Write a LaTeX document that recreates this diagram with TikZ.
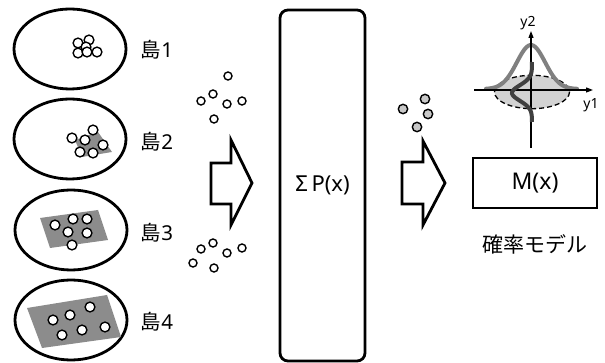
\documentclass[tikz,border=0pt]{standalone}
\usepackage{fontspec}
\setmainfont{Noto Sans}
\newfontfamily\jp{Noto Sans CJK JP}
\usetikzlibrary{shapes.geometric,arrows.meta}
\definecolor{patchgray}{RGB}{140,140,140}
\definecolor{dotgray}{RGB}{200,200,200}
\definecolor{ellgray}{RGB}{210,210,210}
\definecolor{curvegray}{RGB}{128,128,128}
\definecolor{curvedark}{RGB}{64,64,64}
\begin{document}
\begin{tikzpicture}[x=1pt,y=-1pt,
  island/.style={draw,line width=2.8pt,ellipse,minimum width=112pt,minimum height=80pt,inner sep=0pt},
  islandlabel/.style={font=\fontsize{20.5}{22}\selectfont,inner sep=0pt},
  dot/.style={draw,line width=1.4pt,fill=white},
  gdot/.style={draw,line width=1.4pt,fill=dotgray},
  patch/.style={fill=patchgray},
  bigarrow/.style={draw,line width=2.8pt,fill=white,line join=miter},
  bigbox/.style={draw,line width=2.8pt,inner sep=0pt},
  axis/.style={line width=1.2pt,-{Triangle[length=7pt,width=5pt]}},
  axislabel/.style={font=\fontsize{14}{16}\selectfont,inner sep=0pt}
]
\useasboundingbox (0,0) rectangle (605,363);

% islands
\node[island] (e1) at (70,49) {};
\node[island] (e2) at (70,139) {};
\node[island] (e3) at (71,230) {};
\node[island] (e4) at (71,320) {};

\node[islandlabel] (l1) at (157,50) {{\jp 島}1};
\node[islandlabel] (l2) at (157,142) {{\jp 島}2};
\node[islandlabel] (l3) at (157,233) {{\jp 島}3};
\node[islandlabel] (l4) at (157,322) {{\jp 島}4};

% island 1 samples
\foreach \p in {(78,43),(89,40),(86,47),(78,53),(87,52),(97,52)}
  \draw[dot] \p circle (4.9);

% island 2
\fill[patch] (75,140) -- (98,132) -- (112,152) -- (82,157) -- cycle;
\foreach \p in {(72,138),(85,140),(93,130),(103,145),(80,152),(93,153)}
  \draw[dot] \p circle (4.9);

% island 3
\fill[patch] (40,218) -- (98,210) -- (108,240) -- (50,248) -- cycle;
\foreach \p in {(55,225),(73,219),(87,219),(68,232),(87,233),(72,245)}
  \draw[dot] \p circle (4.9);

% island 4
\fill[patch] (27,308) -- (107,295) -- (121,337) -- (42,348) -- cycle;
\foreach \p in {(53,320),(70,315),(90,307),(62,335),(82,330),(105,327)}
  \draw[dot] \p circle (4.9);

% middle samples
\foreach \p in {(228,76),(201,101),(213,94),(227,104),(242,101),(214,119),
                (201,249),(213,243),(227,253),(242,248),(193,263),(214,268)}
  \draw[dot] \p circle (4.0);

% arrow 1
\draw[bigarrow] (211,163) -- (231,163) -- (231,140) -- (252,183) -- (231,225) -- (231,204) -- (211,204) -- cycle;

% sum box
\node[bigbox,rounded corners=8pt,minimum width=85pt,minimum height=351pt,font=\fontsize{22}{24}\selectfont] (sum) at (322.5,185.5) {Σ\,P(x)};

% gray samples
\foreach \p in {(403,109),(425,99),(428,114),(417,127)}
  \draw[gdot] \p circle (4.7);

% arrow 2
\draw[bigarrow] (402,162) -- (423,162) -- (423,141) -- (445,183) -- (423,225) -- (423,204) -- (402,204) -- cycle;

% model box
\node[bigbox,minimum width=124pt,minimum height=50pt,font=\fontsize{23}{25}\selectfont] (m) at (535,183) {M(x)};
\node[font=\jp\fontsize{21}{23}\selectfont,inner sep=0pt] (ml) at (535,244) {確率モデル};

% distribution plot
\draw[fill=ellgray,line width=1.3pt,dash pattern=on 5pt off 3pt] (532,92) ellipse [x radius=37.5,y radius=16.7];
\draw[curvegray,line width=4pt,line cap=round] plot[domain=486:577,samples=80,smooth] (\x,{89-44*exp(-((\x-531)/20)^2)});
\coordinate (ax0) at (474,90);
\coordinate (ax1) at (593,90);
\coordinate (ay0) at (531,148);
\coordinate (ay1) at (531,31);
\draw[axis] (ax0) -- (ax1);
\draw[axis] (ay0) -- (ay1);
\draw[curvedark,line width=4pt] plot[domain=62:122,samples=80,smooth] ({532-20*exp(-((\x-93)/11)^2)},\x);
\node[axislabel] (y1) at (591,105) {y1};
\node[axislabel] (y2) at (528,23) {y2};
\end{tikzpicture}
\end{document}
